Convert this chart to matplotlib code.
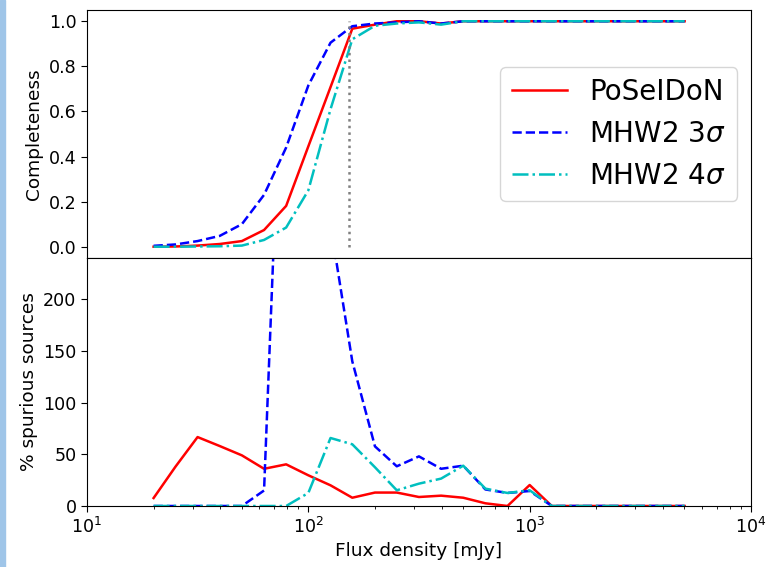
import matplotlib
matplotlib.use("Agg")
from matplotlib import pyplot as plt
from matplotlib.patches import Rectangle

# flux bins [mJy]
flux = [20, 25.1, 31.6, 39.8, 50.1, 63.1, 79.4, 100, 126, 158, 200, 251, 316,
        398, 501, 631, 794, 1000, 1259, 1585, 1995, 2512, 3162, 3981, 5012]

# completeness
comp_poseidon = [0.0, 0.001, 0.005, 0.012, 0.025, 0.074, 0.181, 0.445, 0.708, 0.967,
                 0.985, 1.0, 1.0, 0.99, 1.0, 1.0, 1.0, 1.0, 1.0, 1.0, 1.0, 1.0, 1.0, 1.0, 1.0]
comp_mhw3 = [0.004, 0.01, 0.025, 0.048, 0.10, 0.23, 0.44, 0.715, 0.905, 0.978,
             0.99, 0.995, 1.0, 0.99, 1.0, 1.0, 1.0, 1.0, 1.0, 1.0, 1.0, 1.0, 1.0, 1.0, 1.0]
comp_mhw4 = [0.0, 0.0, 0.001, 0.002, 0.005, 0.03, 0.085, 0.25, 0.61, 0.92,
             0.98, 0.99, 0.995, 0.985, 1.0, 1.0, 1.0, 1.0, 1.0, 1.0, 1.0, 1.0, 1.0, 1.0, 1.0]

# spurious fraction [%]
spur_poseidon = [7.7, 38, 66.7, 58, 49, 36, 40.3, 29.7, 20, 8,
                 13, 13, 8.7, 10, 8, 2.6, 0, 20.3, 0, 0, 0, 0, 0, 0, 0]
spur_mhw3 = [0, 0, 0, 0, 0, 15, 560, 600, 272, 140,
             57.7, 38.4, 48, 36, 39, 16, 12.6, 14.5, 0, 0, 0, 0, 0, 0, 0]
spur_mhw4 = [0, 0, 0, 0, 0, 0, 0, 12.6, 65.8, 59.7,
             37.5, 15.2, 21.6, 26.5, 39, 16.8, 12.6, 15.2, 0, 0, 0, 0, 0, 0, 0]

flux_limit = 152

labels = ["PoSeIDoN", r"MHW2 3$\sigma$", r"MHW2 4$\sigma$"]

plt.rcParams["font.size"] = 12.6
plt.rcParams["axes.labelsize"] = 13.3
plt.rcParams["lines.linewidth"] = 1.8
plt.rcParams["xtick.major.size"] = 4
plt.rcParams["ytick.major.size"] = 4

fig, (ax1, ax2) = plt.subplots(2, 1, sharex=True, figsize=(7.69, 5.67), dpi=100)
fig.subplots_adjust(left=0.1131, right=0.9766, top=0.9824, bottom=0.1076, hspace=0)

# screenshot edge strip
fig.patches.append(Rectangle((0, 0), 5 / 769, 1, transform=fig.transFigure,
                             color="#9fc5e8", zorder=-1))

ax1.plot(flux, comp_poseidon, "r-", label=labels[0])
ax1.plot(flux, comp_mhw3, "b--", label=labels[1])
ax1.plot(flux, comp_mhw4, "c-.", label=labels[2])
ax1.plot([flux_limit, flux_limit], [0, 1], ":", color="grey")
ax1.set_ylim(-0.05, 1.05)
ax1.set_ylabel("Completeness")
ax1.legend(loc="center right", fontsize=20)
ax1.tick_params(axis="x", which="both", bottom=False)

ax2.plot(flux, spur_poseidon, "r-")
ax2.plot(flux, spur_mhw3, "b--")
ax2.plot(flux, spur_mhw4, "c-.")
ax2.set_xscale("log")
ax2.set_xlim(10, 1e4)
ax2.set_ylim(0, 240)
ax2.set_yticks([0, 50, 100, 150, 200])
ax2.set_ylabel("% spurious sources")
ax2.set_xlabel("Flux density [mJy]")

fig.savefig("out.png", dpi=100)
